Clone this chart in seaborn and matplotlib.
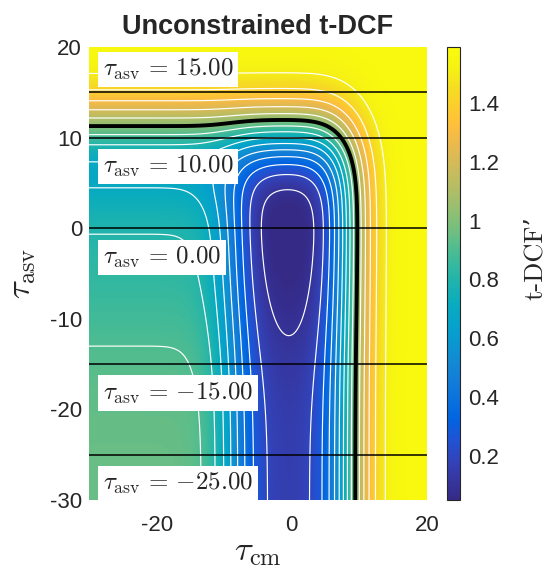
import math
import numpy as np
import matplotlib
matplotlib.use("Agg")
import matplotlib.pyplot as plt
import seaborn as sns
from matplotlib.colors import LinearSegmentedColormap

# threshold ranges of the two systems
tau_cm_range = [-30, 20]
tau_asv_range = [-30, 20]

# normalised costs: target miss, nontarget accept, spoof accept
cost_weights = [1.58, 0.15, 0.80]

# score models [mean, std], estimated from where the contours sit
cm_bonafide = [8.6, 3.3]
cm_spoof = [-8.5, 3.2]
asv_target = [10.6, 4.0]
asv_nontarget = [-10.0, 7.0]
asv_spoof = [7.0, 3.8]

# fixed ASV thresholds marked on the map
asv_marks = [15, 10, 0, -15, -25]
mark_labels = ["15.00", "10.00", "0.00", "-15.00", "-25.00"]

contour_levels = [0.1, 0.2, 0.3, 0.4, 0.5, 0.6, 0.7, 0.8, 0.9, 1.1, 1.2, 1.3, 1.4, 1.5]
boundary_level = [1.0]

x_ticks = [-20, 0, 20]
y_ticks = [-30, -20, -10, 0, 10, 20]
cbar_ticks = [0.2, 0.4, 0.6, 0.8, 1.0, 1.2, 1.4]
cbar_ticklabels = ["0.2", "0.4", "0.6", "0.8", "1", "1.2", "1.4"]

# parula-like colormap (MATLAB default)
parula = LinearSegmentedColormap.from_list("parula", [
    (0.2081, 0.1663, 0.5292), (0.2123, 0.2138, 0.6270), (0.1959, 0.2645, 0.7279),
    (0.1253, 0.3242, 0.8303), (0.0117, 0.3875, 0.8820), (0.0329, 0.4430, 0.8720),
    (0.0723, 0.4887, 0.8467), (0.0749, 0.5375, 0.8263), (0.0343, 0.5966, 0.8199),
    (0.0231, 0.6418, 0.7913), (0.0384, 0.6743, 0.7436), (0.1133, 0.7015, 0.6859),
    (0.2178, 0.7250, 0.6193), (0.3482, 0.7424, 0.5473), (0.4871, 0.7491, 0.4840),
    (0.6099, 0.7473, 0.4337), (0.7184, 0.7411, 0.3905), (0.8185, 0.7327, 0.3498),
    (0.9139, 0.7258, 0.3063), (0.9938, 0.7455, 0.2403), (0.9880, 0.8066, 0.1794),
    (0.9626, 0.8705, 0.1309), (0.9661, 0.9514, 0.0755), (0.9763, 0.9831, 0.0538)])

_erf = np.vectorize(math.erf)


def cdf(v, mu, sd):
    return 0.5 * (1 + _erf((v - mu) / (sd * math.sqrt(2))))


# t-DCF surface over both thresholds
x = np.linspace(tau_cm_range[0], tau_cm_range[1], 401)
y = np.linspace(tau_asv_range[0], tau_asv_range[1], 401)
X, Y = np.meshgrid(x, y)
p_miss_cm = cdf(X, *cm_bonafide)
p_fa_cm = 1 - cdf(X, *cm_spoof)
p_miss_asv = cdf(Y, *asv_target)
p_fa_asv = 1 - cdf(Y, *asv_nontarget)
p_fa_spoof_asv = 1 - cdf(Y, *asv_spoof)
c_miss, c_fa, c_spoof = cost_weights
tdcf = (c_miss * (1 - (1 - p_miss_asv) * (1 - p_miss_cm))
        + c_fa * (1 - p_miss_cm) * p_fa_asv
        + c_spoof * p_fa_cm * p_fa_spoof_asv)

sns.set_theme(style="white")
plt.rcParams["font.family"] = ["Liberation Sans", "DejaVu Sans"]
plt.rcParams["mathtext.fontset"] = "cm"

W, H = 547, 575
fig = plt.figure(figsize=(W / 100, H / 100), dpi=100)
ax = fig.add_axes([89 / W, 75 / H, 338 / W, 453 / H])
cax = fig.add_axes([447 / W, 75 / H, 13 / W, 453 / H])

im = ax.imshow(tdcf, extent=tau_cm_range + tau_asv_range, origin="lower", aspect="auto",
               cmap=parula, vmin=0.05, vmax=1.59, interpolation="bilinear")
ax.contour(X, Y, tdcf, levels=contour_levels, colors="white", linewidths=0.85)
ax.contour(X, Y, tdcf, levels=boundary_level, colors="black", linewidths=2.8)

for m, lab in zip(asv_marks, mark_labels):
    ax.axhline(m, color="black", lw=1.1)
    ty = m + 2.5 if m == max(asv_marks) else m - 3.2
    ax.text(-28.0, ty, r"$\tau_{\rm asv}\,=\,{" + lab + "}$", fontsize=18, ha="left", va="center",
            bbox=dict(boxstyle="square,pad=0.2", fc="white", ec="none"))

ax.set_xlim(tau_cm_range)
ax.set_ylim(tau_asv_range)
ax.set_xticks(x_ticks)
ax.set_xticklabels([str(v) for v in x_ticks])
ax.set_yticks(y_ticks)
ax.set_yticklabels([str(v) for v in y_ticks])
ax.tick_params(axis="both", length=0, labelsize=16, colors="#262626")
ax.tick_params(axis="x", pad=11)
ax.tick_params(axis="y", pad=5)
for s in ax.spines.values():
    s.set_visible(False)

ax.set_title("Unconstrained t-DCF", fontsize=19.5, fontweight="bold", pad=9)
ax.set_xlabel(r"$\tau_{\rm cm}$", fontsize=25)
ax.xaxis.set_label_coords(0.5, -0.078)
ax.set_ylabel(r"$\tau_{\rm asv}$", fontsize=25)
ax.yaxis.set_label_coords(-0.15, 0.5)

cb = fig.colorbar(im, cax=cax, ticks=cbar_ticks)
cb.ax.set_yticklabels(cbar_ticklabels)
cb.ax.tick_params(direction="in", length=3, width=0.8, labelsize=16, pad=6, colors="#262626")
cb.outline.set_linewidth(0.8)
cb.outline.set_edgecolor("#262626")
cb.set_label("t-DCF\u2019", fontsize=19, family=["cmr10", "DejaVu Serif"])
cb.ax.yaxis.set_label_coords(5.9, 0.534)

fig.savefig("out.png", dpi=100)
